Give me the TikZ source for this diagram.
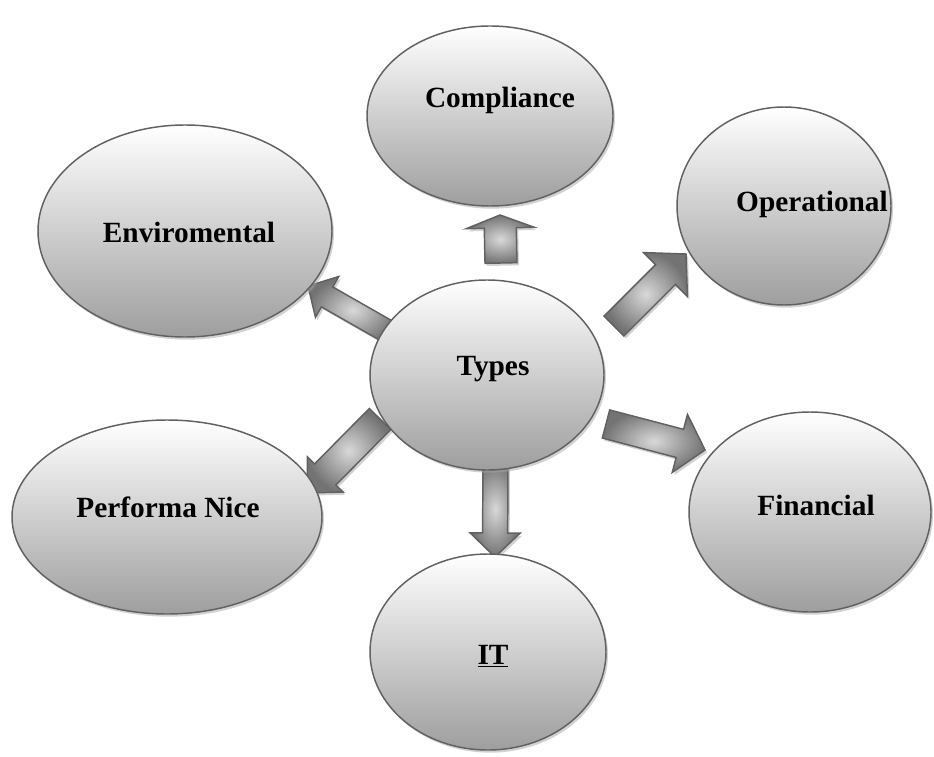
\documentclass[tikz,border=0pt]{standalone}
\usepackage{fontspec}
\setmainfont{Liberation Serif}
\usetikzlibrary{shapes.geometric,shadows,calc,backgrounds}

\tikzset{
  bubble/.style={ellipse, draw=black!62, line width=1.1pt, inner sep=0pt,
    top color=white, bottom color=black!38,
    drop shadow={shadow xshift=1.5pt, shadow yshift=-2pt, fill=black!35, opacity=0.5}},
  word/.style={font=\bfseries\fontsize{22}{26}\selectfont, anchor=base, inner sep=0pt},
  fatarrow/.style={draw=black!62, line width=1.1pt, inner color=black!15, outer color=black!55,
    drop shadow={shadow xshift=1.5pt, shadow yshift=-2pt, fill=black!35, opacity=0.5}}
}

% tail, tip, head length, shaft half width, head half width
\newcommand{\blockarrow}[5]{%
  \coordinate (hb) at ($(#2)!#3!(#1)$);
  \draw[fatarrow] ($(#1)!#4!90:(#2)$) -- ($(hb)!#4!90:(#2)$) -- ($(hb)!#5!90:(#2)$) -- (#2)
    -- ($(hb)!#5!-90:(#2)$) -- ($(hb)!#4!-90:(#2)$) -- ($(#1)!#4!-90:(#2)$) -- cycle;
}

\begin{document}
\begin{tikzpicture}[x=0.75pt,y=-0.75pt]
  \useasboundingbox (0,0) rectangle (934,756);

  %Shape: Ellipse
  \node[bubble, minimum width=184.5pt, minimum height=135pt] (comp) at (490,116) {};
  \node[bubble, minimum width=220.5pt, minimum height=159pt] (envi) at (185,231) {};
  \node[bubble, minimum width=160.5pt, minimum height=148.5pt] (oper) at (784,206) {};
  \node[bubble, minimum width=175.5pt, minimum height=142.5pt] (types) at (487,375) {};
  \node[bubble, minimum width=232.5pt, minimum height=145.5pt] (perf) at (167,517) {};
  \node[bubble, minimum width=181.5pt, minimum height=150pt] (fin) at (810,512) {};
  \node[bubble, minimum width=177pt, minimum height=147pt] (it) at (488,652) {};

  % Text Node
  \node[word] (compt) at (500,108) {Compliance};
  \node[word] (envit) at (189,242) {Enviromental};
  \node[word] (opert) at (812,211) {Operational};
  \node[word] (typest) at (493,375) {Types};
  \node[word] (perft) at (168,517) {Performa Nice};
  \node[word] (fint) at (816,515) {Financial};
  \node[word] (itt) at (493,664) {\underline{IT}};

  %Shape: Right Arrow
  \coordinate (upT) at (501,263);   \coordinate (upP) at (500,215);
  \coordinate (enT) at (392,334);   \coordinate (enP) at (308,286);
  \coordinate (opT) at (614,326);   \coordinate (opP) at (686,254);
  \coordinate (peT) at (380,419);   \coordinate (peP) at (307,493);
  \coordinate (fiT) at (606,424);   \coordinate (fiP) at (705,450);
  \coordinate (itT) at (495.5,462); \coordinate (itP) at (495,557);
  \begin{scope}[on background layer]
    \blockarrow{upT}{upP}{9.75pt}{12pt}{25.5pt}
    \blockarrow{enT}{enP}{16.5pt}{8.6pt}{17.6pt}
    \blockarrow{opT}{opP}{21.75pt}{10.5pt}{23.25pt}
    \blockarrow{peT}{peP}{19.5pt}{11.25pt}{18.75pt}
    \blockarrow{fiT}{fiP}{19.5pt}{10.9pt}{22.5pt}
    \blockarrow{itT}{itP}{18pt}{9.4pt}{18.75pt}
  \end{scope}
\end{tikzpicture}
\end{document}
